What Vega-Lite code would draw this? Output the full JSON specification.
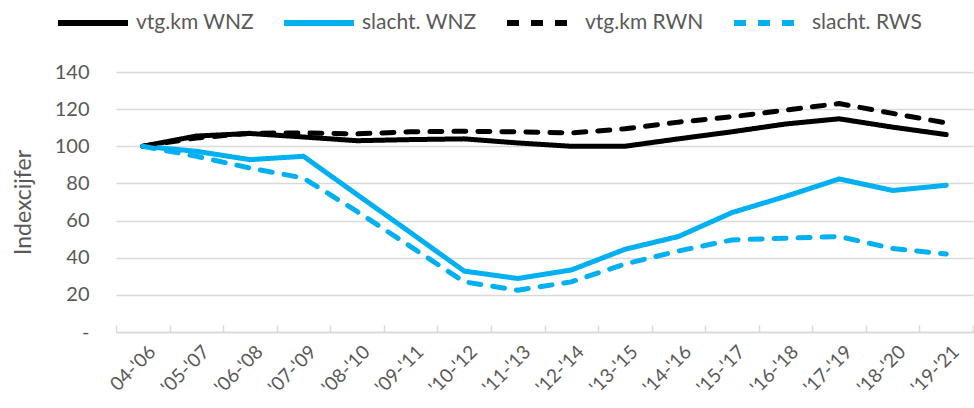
{
  "$schema": "https://vega.github.io/schema/vega-lite/v6.json",
  "width": 857,
  "height": 260,
  "autosize": {"type": "none"},
  "padding": {"left": 116, "top": 72, "right": 1, "bottom": 76},
  "config": {
    "view": {"stroke": null},
    "font": "Lato",
    "axis": {"labelColor": "#595959", "titleColor": "#595959", "labelFont": "Lato", "titleFont": "Lato"}
  },
  "datasets": {
    "reeksen": [
      {"periode": "04-'06", "reeks": "vtg.km WNZ", "waarde": 100},
      {"periode": "'05-'07", "reeks": "vtg.km WNZ", "waarde": 105.5},
      {"periode": "'06-'08", "reeks": "vtg.km WNZ", "waarde": 106.9},
      {"periode": "'07-'09", "reeks": "vtg.km WNZ", "waarde": 105},
      {"periode": "'08-'10", "reeks": "vtg.km WNZ", "waarde": 103},
      {"periode": "'09-'11", "reeks": "vtg.km WNZ", "waarde": 103.6},
      {"periode": "'10-'12", "reeks": "vtg.km WNZ", "waarde": 104},
      {"periode": "'11-'13", "reeks": "vtg.km WNZ", "waarde": 101.8},
      {"periode": "'12-'14", "reeks": "vtg.km WNZ", "waarde": 100},
      {"periode": "'13-'15", "reeks": "vtg.km WNZ", "waarde": 100},
      {"periode": "'14-'16", "reeks": "vtg.km WNZ", "waarde": 104},
      {"periode": "'15-'17", "reeks": "vtg.km WNZ", "waarde": 107.8},
      {"periode": "'16-'18", "reeks": "vtg.km WNZ", "waarde": 112},
      {"periode": "'17-'19", "reeks": "vtg.km WNZ", "waarde": 114.8},
      {"periode": "'18-'20", "reeks": "vtg.km WNZ", "waarde": 110.3},
      {"periode": "'19-'21", "reeks": "vtg.km WNZ", "waarde": 106.3},
      {"periode": "04-'06", "reeks": "slacht. WNZ", "waarde": 100},
      {"periode": "'05-'07", "reeks": "slacht. WNZ", "waarde": 97.3},
      {"periode": "'06-'08", "reeks": "slacht. WNZ", "waarde": 92.8},
      {"periode": "'07-'09", "reeks": "slacht. WNZ", "waarde": 94.6},
      {"periode": "'08-'10", "reeks": "slacht. WNZ", "waarde": 74},
      {"periode": "'09-'11", "reeks": "slacht. WNZ", "waarde": 53.5},
      {"periode": "'10-'12", "reeks": "slacht. WNZ", "waarde": 32.8},
      {"periode": "'11-'13", "reeks": "slacht. WNZ", "waarde": 28.8},
      {"periode": "'12-'14", "reeks": "slacht. WNZ", "waarde": 33.4},
      {"periode": "'13-'15", "reeks": "slacht. WNZ", "waarde": 44.5},
      {"periode": "'14-'16", "reeks": "slacht. WNZ", "waarde": 51.4},
      {"periode": "'15-'17", "reeks": "slacht. WNZ", "waarde": 64.3},
      {"periode": "'16-'18", "reeks": "slacht. WNZ", "waarde": 73},
      {"periode": "'17-'19", "reeks": "slacht. WNZ", "waarde": 82.4},
      {"periode": "'18-'20", "reeks": "slacht. WNZ", "waarde": 76.2},
      {"periode": "'19-'21", "reeks": "slacht. WNZ", "waarde": 79},
      {"periode": "04-'06", "reeks": "vtg.km RWN", "waarde": 100},
      {"periode": "'05-'07", "reeks": "vtg.km RWN", "waarde": 104.5},
      {"periode": "'06-'08", "reeks": "vtg.km RWN", "waarde": 107},
      {"periode": "'07-'09", "reeks": "vtg.km RWN", "waarde": 107.2},
      {"periode": "'08-'10", "reeks": "vtg.km RWN", "waarde": 106.7},
      {"periode": "'09-'11", "reeks": "vtg.km RWN", "waarde": 107.8},
      {"periode": "'10-'12", "reeks": "vtg.km RWN", "waarde": 108.1},
      {"periode": "'11-'13", "reeks": "vtg.km RWN", "waarde": 107.8},
      {"periode": "'12-'14", "reeks": "vtg.km RWN", "waarde": 107.2},
      {"periode": "'13-'15", "reeks": "vtg.km RWN", "waarde": 109.4},
      {"periode": "'14-'16", "reeks": "vtg.km RWN", "waarde": 113},
      {"periode": "'15-'17", "reeks": "vtg.km RWN", "waarde": 115.9},
      {"periode": "'16-'18", "reeks": "vtg.km RWN", "waarde": 119.5},
      {"periode": "'17-'19", "reeks": "vtg.km RWN", "waarde": 123},
      {"periode": "'18-'20", "reeks": "vtg.km RWN", "waarde": 117.7},
      {"periode": "'19-'21", "reeks": "vtg.km RWN", "waarde": 112.6},
      {"periode": "04-'06", "reeks": "slacht. RWS", "waarde": 100},
      {"periode": "'05-'07", "reeks": "slacht. RWS", "waarde": 94.6},
      {"periode": "'06-'08", "reeks": "slacht. RWS", "waarde": 88.3},
      {"periode": "'07-'09", "reeks": "slacht. RWS", "waarde": 82.9},
      {"periode": "'08-'10", "reeks": "slacht. RWS", "waarde": 64.9},
      {"periode": "'09-'11", "reeks": "slacht. RWS", "waarde": 46},
      {"periode": "'10-'12", "reeks": "slacht. RWS", "waarde": 27},
      {"periode": "'11-'13", "reeks": "slacht. RWS", "waarde": 22.5},
      {"periode": "'12-'14", "reeks": "slacht. RWS", "waarde": 27},
      {"periode": "'13-'15", "reeks": "slacht. RWS", "waarde": 36.6},
      {"periode": "'14-'16", "reeks": "slacht. RWS", "waarde": 43.6},
      {"periode": "'15-'17", "reeks": "slacht. RWS", "waarde": 49.6},
      {"periode": "'16-'18", "reeks": "slacht. RWS", "waarde": 50.5},
      {"periode": "'17-'19", "reeks": "slacht. RWS", "waarde": 51.4},
      {"periode": "'18-'20", "reeks": "slacht. RWS", "waarde": 45},
      {"periode": "'19-'21", "reeks": "slacht. RWS", "waarde": 42}
    ]
  },
  "data": {"name": "reeksen"},
  "mark": {"type": "line", "strokeWidth": 5, "strokeCap": "round", "strokeJoin": "round"},
  "encoding": {
    "x": {
      "field": "periode",
      "type": "ordinal",
      "sort": null,
      "title": null,
      "scale": {"type": "band", "paddingInner": 0, "paddingOuter": 0},
      "axis": {
        "labelAngle": -45,
        "labelFontSize": 19,
        "labelPadding": 17,
        "labelOffset": 3,
        "tickBand": "extent",
        "tickSize": -7,
        "tickColor": "#d9d9d9",
        "tickWidth": 1.5,
        "domainColor": "#d9d9d9",
        "domainWidth": 1.5,
        "grid": false
      }
    },
    "y": {
      "field": "waarde",
      "type": "quantitative",
      "title": "Indexcijfer",
      "scale": {"domain": [0, 140], "nice": false, "zero": true},
      "axis": {
        "values": [0, 20, 40, 60, 80, 100, 120, 140],
        "labelExpr": "datum.value == 0 ? '-' : datum.label",
        "labelFontSize": 20,
        "labelPadding": 27,
        "domain": false,
        "ticks": false,
        "grid": true,
        "gridColor": "#d9d9d9",
        "gridWidth": 1.5,
        "titleFontSize": 23,
        "titleFontWeight": "normal",
        "titlePadding": 19
      }
    },
    "color": {
      "field": "reeks",
      "type": "nominal",
      "sort": null,
      "scale": {
        "domain": ["vtg.km WNZ", "slacht. WNZ", "vtg.km RWN", "slacht. RWS"],
        "range": ["#000000", "#00b0f0", "#000000", "#00b0f0"]
      },
      "legend": {
        "title": null,
        "orient": "none",
        "legendX": -61,
        "legendY": -87,
        "direction": "horizontal",
        "symbolType": "stroke",
        "symbolSize": 4900,
        "symbolStrokeWidth": 6,
        "labelFontSize": 21,
        "labelColor": "#595959",
        "labelOffset": 5,
        "columnPadding": 18
      }
    },
    "strokeDash": {
      "field": "reeks",
      "type": "nominal",
      "sort": null,
      "scale": {
        "domain": ["vtg.km WNZ", "slacht. WNZ", "vtg.km RWN", "slacht. RWS"],
        "range": [[1, 0], [1, 0], [12, 12], [12, 12]]
      },
      "legend": {
        "title": null,
        "orient": "none",
        "legendX": -61,
        "legendY": -87,
        "direction": "horizontal",
        "symbolType": "stroke",
        "symbolSize": 4900,
        "symbolStrokeWidth": 6,
        "labelFontSize": 21,
        "labelColor": "#595959",
        "labelOffset": 5,
        "columnPadding": 18
      }
    }
  }
}
